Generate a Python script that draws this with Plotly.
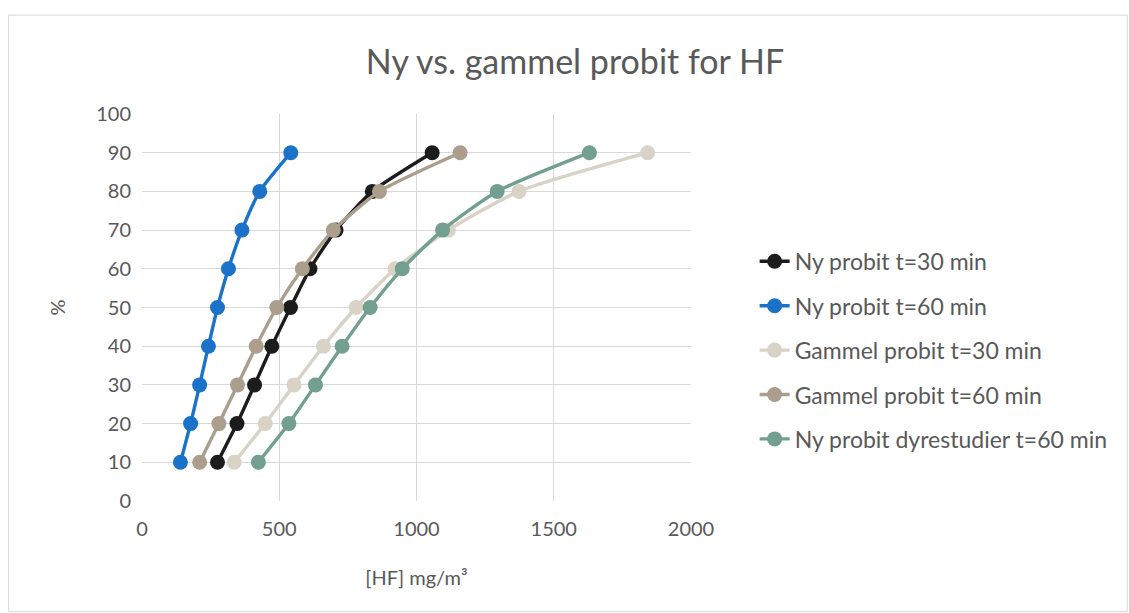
import plotly.graph_objects as go

pct = [10, 20, 30, 40, 50, 60, 70, 80, 90]
ny30 = [275, 346, 410, 473, 541, 612, 707, 839, 1057]
ny60 = [140, 177, 210, 242, 275, 315, 364, 429, 542]
gam30 = [336, 449, 554, 661, 780, 922, 1116, 1373, 1842]
gam60 = [210, 280, 348, 416, 491, 584, 697, 865, 1159]
dyr60 = [424, 535, 632, 729, 831, 948, 1095, 1294, 1630]

names = ["Ny probit t=30 min", "Ny probit t=60 min", "Gammel probit t=30 min",
         "Gammel probit t=60 min", "Ny probit dyrestudier t=60 min"]
colors = ["#1c1c1c", "#1a72c9", "#d8d2c7", "#ab9e8c", "#729f90"]
series = [ny30, ny60, gam30, gam60, dyr60]

W, H = 1129, 613
L, R, T, B = 141.7, 691.3, 114, 501.4
FONT = "Lato, Open Sans, sans-serif"

fig = go.Figure()
for i, (n, c, s) in enumerate(zip(names, colors, series)):
    fig.add_trace(go.Scatter(
        x=s, y=pct, name=n, mode="lines+markers",
        line=dict(color=c, width=3.4, shape="spline", smoothing=0.6),
        marker=dict(color=c, size=15),
        legendgroup=str(i),
    ))

tickfont = dict(family=FONT, size=20, color="#595959")
fig.update_layout(
    width=W, height=H,
    margin=dict(l=L, r=W - R, t=T, b=H - B, autoexpand=False),
    paper_bgcolor="white", plot_bgcolor="white",
    title=dict(text="Ny vs. gammel probit for HF", x=575 / W, xanchor="center",
               y=1 - 62 / H, yanchor="middle",
               font=dict(family=FONT, size=34, color="#595959")),
    xaxis=dict(range=[0, 2000], dtick=500, showgrid=True, gridcolor="#d9d9d9", gridwidth=1.3,
               zeroline=False, showline=False, tickfont=tickfont, ticks="",
               ticklabelstandoff=14,
               title=dict(text="[HF] mg/m³", font=dict(family=FONT, size=20, color="#595959"),
                          standoff=31)),
    yaxis=dict(range=[0, 100], dtick=10, showgrid=True, gridcolor="#d9d9d9", gridwidth=1.3,
               zeroline=False, showline=False, tickfont=tickfont, ticks="",
               ticklabelstandoff=10,
               title=dict(text="%", font=dict(family=FONT, size=20, color="#595959"),
                          standoff=25)),
    legend=dict(x=(755 - L) / (R - L), xanchor="left", y=(B - 240) / (B - T), yanchor="top",
                font=dict(family=FONT, size=23, color="#595959"),
                traceorder="grouped", tracegroupgap=11.5, bgcolor="rgba(0,0,0,0)"),
    showlegend=True,
)
fig.add_shape(type="rect", xref="paper", yref="paper",
              x0=(8 - L) / (R - L), x1=(1128 - L) / (R - L),
              y0=(B - 612) / (B - T), y1=(B - 15) / (B - T),
              line=dict(color="#d9d9d9", width=1), layer="below")
fig.write_html("out.html")
